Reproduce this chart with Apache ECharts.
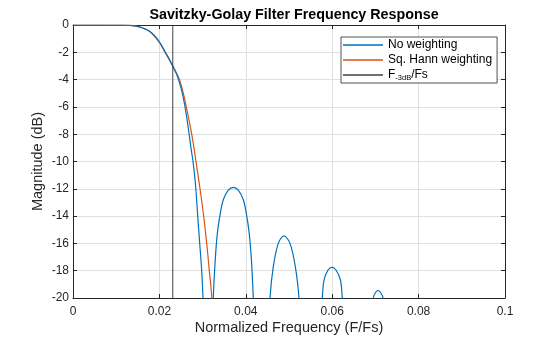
<!DOCTYPE html>
<html>
<head>
<meta charset="utf-8">
<script src="https://cdn.jsdelivr.net/npm/echarts@6/dist/echarts.min.js"></script>
<style>
html,body{margin:0;padding:0;background:#fff;}
#chart{width:560px;height:337px;}
</style>
</head>
<body>
<div id="chart"></div>
<script>
// ---- data ----
const titleText = 'Savitzky-Golay Filter Frequency Response';
const xAxisName = 'Normalized Frequency (F/Fs)';
const yAxisName = 'Magnitude (dB)';
const seriesNames = ['No weighting', 'Sq. Hann weighting', 'F-3dB/Fs'];
const seriesColors = ['#0072BD', '#D95319', '#404040'];

const xTicks = [0, 0.02, 0.04, 0.06, 0.08, 0.1];
const yTicks = [0, -2, -4, -6, -8, -10, -12, -14, -16, -18, -20];

// No weighting (blue)
const freqNoWeight = [0, 0.005, 0.009, 0.011, 0.0132, 0.0144, 0.01551, 0.01667, 0.01782, 0.01898, 0.02014, 0.0213, 0.02245, 0.02315,
  0.02384, 0.02454, 0.02523, 0.02593, 0.02662, 0.02731, 0.02778, 0.02836, 0.02887, 0.02933, 0.02979, 0.03009, 0.0314,
  0.03248, 0.03287, 0.0334, 0.0341, 0.03479, 0.03595, 0.03711, 0.03826, 0.03942, 0.04012, 0.04081, 0.04132, 0.04174, 0.0437,
  0.0456, 0.04637, 0.04752, 0.04884, 0.05023, 0.05146, 0.05231, 0.055,
  0.05771, 0.0581, 0.05903, 0.05995, 0.06088, 0.06192, 0.06234, 0.0659,
  0.06951, 0.07002, 0.0706, 0.07118, 0.07176, 0.0735];
const magNoWeight = [0, 0, -0.005, -0.01, -0.03, -0.07, -0.15, -0.28, -0.48, -0.82, -1.3, -1.95, -2.6, -3.05,
  -3.5, -4.1, -4.9, -6.0, -7.4, -9.0, -10.0, -11.7, -14.0, -16.0, -18.0, -20.0, -32,
  -20, -17.5, -15.3, -13.8, -12.8, -12.1, -11.9, -12.1, -12.8, -13.8, -15.3, -17.3, -20, -32,
  -20, -17.7, -16.0, -15.45, -16.0, -17.7, -20, -32,
  -20, -18.7, -17.95, -17.75, -17.95, -18.7, -20, -32,
  -20, -19.6, -19.45, -19.6, -20, -32];

// Sq. Hann weighting (orange)
const freqHann = [0, 0.005, 0.009, 0.011, 0.0132, 0.0144, 0.01551, 0.01667, 0.01782, 0.01898, 0.02014, 0.0213, 0.02245, 0.02315,
  0.02384, 0.02465, 0.02546, 0.02623, 0.02748, 0.02847, 0.0294, 0.03025, 0.03095, 0.03155, 0.03213, 0.0335];
const magHann = [0, 0, -0.005, -0.01, -0.03, -0.08, -0.16, -0.3, -0.5, -0.86, -1.35, -2.0, -2.63, -3.05,
  -3.45, -4.0, -4.9, -6.0, -8.0, -10.0, -12.0, -14.0, -16.0, -18.0, -20.0, -32];

// cutoff frequency line
const cutoffFreq = [0.0231];

// ---- build ----
const pairs = (xs, ys) => xs.map((x, i) => [x, ys[i]]);
const fmt = v => String(parseFloat(Number(v).toFixed(4)));
const font = 'Liberation Sans, Arial, Helvetica, sans-serif';
const ink = '#262626';

const xMin = xTicks[0], xMax = xTicks[xTicks.length - 1];
const yMax = yTicks[0], yMin = yTicks[yTicks.length - 1];
const xStep = xTicks[1] - xTicks[0];
const yStep = yTicks[0] - yTicks[1];

const chart = echarts.init(document.getElementById('chart'), null, {renderer: 'canvas'});

const baseX = {
  type: 'value', min: xMin, max: xMax, interval: xStep,
  axisLine: {show: true, onZero: false, lineStyle: {color: ink, width: 1}},
  axisTick: {show: true, inside: true, length: 4, lineStyle: {color: ink}},
};
const baseY = {
  type: 'value', min: yMin, max: yMax, interval: yStep,
  axisLine: {show: true, onZero: false, lineStyle: {color: ink, width: 1}},
  axisTick: {show: true, inside: true, length: 4, lineStyle: {color: ink}},
};

const lineCommon = {
  type: 'line', xAxisIndex: 0, yAxisIndex: 0, showSymbol: false, symbol: 'none',
  clip: true, smooth: 0.35
};

chart.setOption({
  animation: false,
  backgroundColor: '#fff',
  title: {
    text: titleText, left: 289, top: 3, textAlign: 'center',
    textStyle: {fontFamily: font, fontSize: 14.3, fontWeight: 'bold', color: '#000'}
  },
  grid: {left: 73, right: 55, top: 25, bottom: 39, containLabel: false, outerBoundsMode: 'none'},
  legend: {
    orient: 'vertical', left: 341, top: 37,
    data: seriesNames.map((n, i) => ({
      name: n, icon: 'rect', itemStyle: {color: seriesColors[i], borderWidth: 0}
    })),
    itemWidth: 40, itemHeight: 1.3, itemGap: 1, itemStyle: {borderWidth: 0},
    padding: [1, 5, 1, 2],
    borderColor: ink, borderWidth: 0.8, backgroundColor: '#fff',
    textStyle: {
      fontFamily: font, fontSize: 12, color: '#000', lineHeight: 14, width: 104,
      rich: {
        a: {fontFamily: font, fontSize: 12, color: '#000', lineHeight: 14},
        sub: {fontFamily: font, fontSize: 7.5, color: '#000', verticalAlign: 'bottom', lineHeight: 14, padding: [4, 0, 0, 0]}
      }
    },
    formatter: name => name === 'F-3dB/Fs' ? '{a|F}{sub|-3dB}{a|/Fs}' : name
  },
  xAxis: [
    Object.assign({}, baseX, {
      position: 'bottom',
      name: xAxisName, nameLocation: 'middle', nameGap: 22, nameMoveOverlap: false,
      nameTextStyle: {fontFamily: font, fontSize: 14.5, color: ink},
      axisLabel: {fontFamily: font, fontSize: 12, color: ink, margin: 8, formatter: fmt},
      splitLine: {show: true, lineStyle: {color: '#dfdfdf', width: 1}}
    }),
    Object.assign({}, baseX, {
      position: 'top', axisLabel: {show: false}, splitLine: {show: false}
    })
  ],
  yAxis: [
    Object.assign({}, baseY, {
      position: 'left',
      name: yAxisName, nameLocation: 'middle', nameGap: 28, nameRotate: 90, nameMoveOverlap: false,
      nameTextStyle: {fontFamily: font, fontSize: 14.5, color: ink},
      axisLabel: {fontFamily: font, fontSize: 12, color: ink, margin: 4, formatter: fmt},
      splitLine: {show: true, lineStyle: {color: '#dfdfdf', width: 1}}
    }),
    Object.assign({}, baseY, {
      position: 'right', axisLabel: {show: false}, splitLine: {show: false}
    })
  ],
  series: [
    Object.assign({}, lineCommon, {
      name: seriesNames[0], data: pairs(freqNoWeight, magNoWeight),
      lineStyle: {color: seriesColors[0], width: 1.2}, itemStyle: {color: seriesColors[0]}, z: 3
    }),
    Object.assign({}, lineCommon, {
      name: seriesNames[1], data: pairs(freqHann, magHann),
      lineStyle: {color: seriesColors[1], width: 1.2}, itemStyle: {color: seriesColors[1]}, z: 2
    }),
    Object.assign({}, lineCommon, {
      name: seriesNames[2], smooth: false,
      data: [[cutoffFreq[0], yMax], [cutoffFreq[0], yMin]],
      lineStyle: {color: seriesColors[2], width: 1}, itemStyle: {color: seriesColors[2]}, z: 4
    })
  ]
});
</script>
</body>
</html>
